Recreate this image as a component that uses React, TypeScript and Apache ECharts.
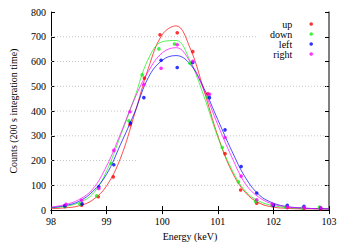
import React, { useEffect, useRef } from "react";
import * as echarts from "echarts";

// measured points (energy keV, counts)
const upE = [98.25, 98.55, 98.85, 99.12, 99.42, 99.68, 99.96, 100.27, 100.55, 100.82, 101.13, 101.41, 101.7, 102.0, 102.25, 102.55, 102.85];
const upC = [15, 20, 54, 134, 345, 533, 708, 716, 640, 470, 228, 81, 28, 20, 10, 7, 5];
const downE = [98.25, 98.52, 98.82, 99.08, 99.4, 99.64, 99.94, 100.22, 100.5, 100.82, 101.08, 101.37, 101.68, 101.98, 102.22, 102.52, 102.83];
const downC = [15, 24, 58, 188, 361, 546, 651, 671, 593, 456, 253, 114, 35, 19, 12, 8, 12];
const leftE = [98.25, 98.56, 98.86, 99.13, 99.43, 99.67, 99.98, 100.27, 100.55, 100.85, 101.13, 101.42, 101.7, 102.0, 102.25, 102.55, 102.85];
const leftC = [18, 25, 94, 183, 352, 454, 605, 576, 596, 454, 324, 176, 69, 19, 19, 15, 8];
const rightE = [98.27, 98.55, 98.86, 99.13, 99.42, 99.67, 99.98, 100.27, 100.55, 100.85, 101.13, 101.42, 101.7, 101.98, 102.25, 102.55, 102.85];
const rightC = [23, 40, 87, 241, 397, 507, 573, 668, 601, 468, 293, 137, 42, 23, 12, 10, 9];

// fitted curves
const fitE = [98, 98.25, 98.5, 98.75, 99, 99.25, 99.5, 99.75, 100, 100.25, 100.5, 100.75, 101, 101.25, 101.5, 101.75, 102, 102.25, 102.5, 102.75, 103];
const fitUp = [6, 9, 17, 41, 98, 210, 385, 572, 708, 744, 655, 484, 300, 157, 70, 28, 12, 7, 5, 5, 5];
const fitDown = [9, 15, 30, 65, 158, 300, 452, 610, 680, 685, 603, 460, 295, 165, 75, 35, 18, 10, 7, 6, 5];
const fitLeft = [10, 18, 35, 75, 145, 265, 392, 535, 605, 624, 590, 492, 365, 240, 130, 60, 28, 14, 9, 6, 5];
const fitRight = [12, 22, 42, 85, 178, 308, 448, 560, 635, 656, 600, 485, 345, 215, 105, 50, 24, 13, 8, 6, 5];

const seriesNames = ["up", "down", "left", "right"];
const colors = ["#ff0000", "#11f011", "#0000ff", "#ff00ff"];

// visible pieces of the dotted grid: [counts, fromE, toE]
const gridPieces: [number, number, number][] = [
  [700, 98, 101.7],
  [600, 98, 99.05],
  [500, 98, 99.3],
  [500, 99.6, 103],
  [400, 98, 99.5],
  [300, 98, 99.3],
  [300, 99.6, 103],
  [200, 98, 99.55],
  [100, 98, 103],
];

const zip = (a: number[], b: number[]) => a.map((v, i) => [v, b[i]]);

export default function App() {
  const ref = useRef<HTMLDivElement>(null);
  useEffect(() => {
    if (!ref.current) return;
    const chart = echarts.init(ref.current, undefined, { renderer: "svg" });
    const font = "Liberation Serif";
    const pts = [zip(upE, upC), zip(downE, downC), zip(leftE, leftC), zip(rightE, rightC)];
    const fits = [fitUp, fitDown, fitLeft, fitRight].map((f) => zip(fitE, f));
    const series: any[] = [];
    gridPieces.forEach((g, i) => {
      series.push({
        type: "line",
        name: "grid" + i,
        data: [[g[1], g[0]], [g[2], g[0]]],
        showSymbol: false,
        silent: true,
        z: 0,
        lineStyle: { color: "#c4c4c4", width: 1, type: [1, 2] },
      });
    });
    fits.forEach((f, i) => {
      series.push({
        type: "line",
        name: "fit-" + seriesNames[i],
        data: f,
        smooth: 0.4,
        showSymbol: false,
        silent: true,
        z: 2,
        lineStyle: { color: colors[i], width: 1, opacity: 0.7 },
      });
    });
    pts.forEach((p, i) => {
      series.push({
        type: "scatter",
        name: seriesNames[i],
        data: p,
        symbol: "circle",
        symbolSize: 3.6,
        z: 3,
        itemStyle: { color: colors[i] },
      });
    });
    chart.setOption({
      animation: false,
      grid: { left: 48, right: 22, top: 12, bottom: 33 },
      legend: {
        data: seriesNames,
        orient: "vertical",
        align: "right",
        right: 33,
        top: 14,
        itemGap: 0,
        itemWidth: 28,
        itemHeight: 3.6,
        textStyle: { fontFamily: font, fontSize: 10, color: "#000", width: 28, align: "right", lineHeight: 9.7 },
      },
      xAxis: [
        {
          type: "value",
          min: 98,
          max: 103,
          interval: 1,
          name: "Energy (keV)",
          nameLocation: "middle",
          nameGap: 20,
          nameTextStyle: { fontFamily: font, fontSize: 10, color: "#000" },
          axisLine: { lineStyle: { color: "#000", width: 1 } },
          axisTick: { inside: true, length: 4, lineStyle: { color: "#000" } },
          axisLabel: { fontFamily: font, fontSize: 10, color: "#000", margin: 6 },
          splitLine: { show: false },
        },
        {
          type: "value",
          position: "top",
          min: 98,
          max: 103,
          interval: 1,
          axisLine: { show: true, lineStyle: { color: "#000", width: 1 } },
          axisTick: { inside: true, length: 4, lineStyle: { color: "#000" } },
          axisLabel: { show: false },
          splitLine: { show: false },
        },
      ],
      yAxis: [
        {
          type: "value",
          min: 0,
          max: 800,
          interval: 100,
          name: "Counts (200 s integration time)",
          nameLocation: "middle",
          nameGap: 33,
          nameTextStyle: { fontFamily: font, fontSize: 10, color: "#000" },
          axisLine: { show: true, lineStyle: { color: "#000", width: 1 } },
          axisTick: { show: true, inside: true, length: 4, lineStyle: { color: "#000" } },
          axisLabel: { fontFamily: font, fontSize: 10, color: "#000", margin: 5 },
          splitLine: { show: false },
        },
        {
          type: "value",
          position: "right",
          min: 0,
          max: 800,
          interval: 100,
          axisLine: { show: true, lineStyle: { color: "#555", width: 1.5 } },
          axisTick: { show: true, inside: true, length: 4, lineStyle: { color: "#000" } },
          axisLabel: { show: false },
          splitLine: { show: false },
        },
      ],
      series,
    });
    return () => chart.dispose();
  }, []);
  return (
    <div
      ref={ref}
      style={{ position: "fixed", left: 0, top: 0, width: 351, height: 246, background: "#fff" }}
    />
  );
}
